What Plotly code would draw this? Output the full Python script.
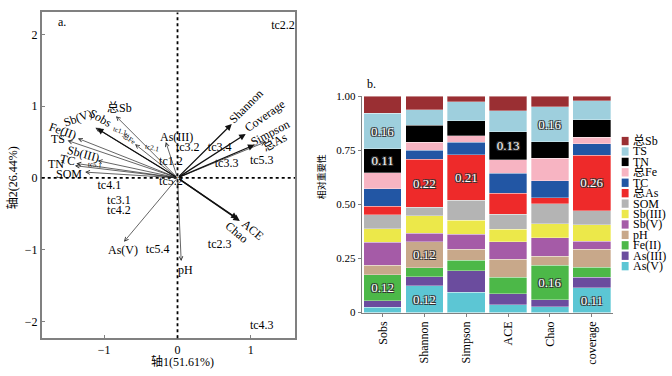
import plotly.graph_objects as go

W, H = 672, 376
FONT = "Liberation Serif, 'Noto Sans CJK SC', serif"

# ---------------- Panel b data (relative importance) ----------------
models = ["Sobs", "Shannon", "Simpson", "ACE", "Chao", "coverage"]
series_names = ["As(V)", "As(III)", "Fe(II)", "pH", "Sb(V)", "Sb(III)", "SOM",
                "总As", "TC", "总Fe", "TN", "TS", "总Sb"]
as_v    = [0.025, 0.124, 0.094, 0.037, 0.027, 0.114]
as_iii  = [0.030, 0.042, 0.100, 0.050, 0.033, 0.050]
fe_ii   = [0.120, 0.042, 0.048, 0.077, 0.159, 0.046]
ph      = [0.045, 0.120, 0.052, 0.082, 0.042, 0.083]
sb_v    = [0.105, 0.038, 0.069, 0.082, 0.085, 0.038]
sb_iii  = [0.063, 0.082, 0.065, 0.057, 0.064, 0.075]
som     = [0.064, 0.040, 0.091, 0.070, 0.094, 0.065]
tot_as  = [0.040, 0.222, 0.212, 0.097, 0.026, 0.257]
tc      = [0.080, 0.040, 0.057, 0.093, 0.079, 0.052]
tot_fe  = [0.075, 0.037, 0.030, 0.061, 0.104, 0.030]
tn      = [0.111, 0.079, 0.070, 0.130, 0.078, 0.082]
ts      = [0.163, 0.073, 0.087, 0.097, 0.161, 0.087]
tot_sb  = [0.079, 0.061, 0.025, 0.067, 0.048, 0.021]
series_values = [as_v, as_iii, fe_ii, ph, sb_v, sb_iii, som, tot_as, tc, tot_fe, tn, ts, tot_sb]
series_colors = ["#5cc6d4", "#6b4c9e", "#4cb848", "#c8a88a", "#a55ba7", "#ece84a", "#b4b4b4",
                 "#ee2a2a", "#2256a4", "#f7b4c2", "#000000", "#9ecfdd", "#9a2f33"]
label_threshold = 0.11

# ---------------- Panel a data (biplot) ----------------
env_names = ["总Sb", "TS", "TN", "总Fe", "TC", "总As", "SOM", "Sb(III)", "Sb(V)", "pH", "Fe(II)", "As(III)", "As(V)"]
env_x = [-0.84, -1.50, -1.40, -0.58, -1.38, 1.20, -1.26, -1.09, -1.12, 0.05, -1.36, -0.16, -0.73]
env_y = [0.86, 0.52, 0.17, 0.47, 0.20, 0.50, 0.08, 0.24, 0.70, -1.16, 0.55, 0.50, -0.89]
env_lx = [-0.79, -1.63, -1.66, -0.66, -1.50, 1.33, -1.48, -1.28, -1.36, 0.11, -1.56, -0.01, -0.74]
env_ly = [0.97, 0.54, 0.20, 0.55, 0.25, 0.50, 0.05, 0.33, 0.84, -1.28, 0.66, 0.57, -1.01]
env_ang = [0, 0, 0, 35, 12, -28, 0, 15, -20, 0, 20, 0, 0]
env_fs = [12, 12, 12, 7, 12, 12, 12, 12, 12, 12, 12, 12, 12]

sp_names = ["Sobs", "Shannon", "Simpson", "ACE", "Chao", "Coverage"]
sp_x = [-1.10, 0.74, 1.05, 0.85, 0.82, 0.93]
sp_y = [0.69, 0.75, 0.46, -0.60, -0.57, 0.61]
sp_lx = [-1.05, 0.94, 1.26, 1.03, 0.80, 1.19]
sp_ly = [0.84, 1.00, 0.63, -0.72, -0.76, 0.86]
sp_ang = [30, -45, -28, 40, 40, -35]

site_names = ["tc2.2", "tc3.2", "tc3.4", "tc3.3", "tc5.3", "tc1.2", "tc5.2", "tc4.1",
              "tc3.1", "tc4.2", "tc5.4", "tc2.3", "tc4.3"]
site_x = [1.44, 0.14, 0.575, 0.67, 1.15, -0.09, -0.09, -0.93, -0.80, -0.80, -0.27, 0.575, 1.15]
site_y = [2.12, 0.41, 0.41, 0.19, 0.23, 0.22, -0.06, -0.11, -0.32, -0.46, -1.00, -0.94, -2.07]
small_site_names = ["tc1.1", "tc2.1", "tc5.1"]
small_site_x = [-0.79, -0.35, -1.13]
small_site_y = [0.65, 0.41, 0.185]
small_site_ang = [18, 12, 5]

fig = go.Figure()

# ----- bars -----
for name, vals, col in zip(series_names, series_values, series_colors):
    fig.add_trace(go.Bar(
        x=models, y=vals, name=name, xaxis="x2", yaxis="y2", showlegend=False,
        marker=dict(color=col, line=dict(color="rgba(255,255,255,0.55)", width=0.6)),
        text=[f"{v:.2f}" if v >= label_threshold else "" for v in vals],
        textposition="inside", insidetextanchor="middle", textangle=0,
        constraintext="none",
        textfont=dict(color="white", size=13, family=FONT,
                      shadow="-1px -1px 0 #333, 1px -1px 0 #333, -1px 1px 0 #333, 1px 1px 0 #333"),
        hoverinfo="x+y+name",
    ))

# ----- sites as text -----
fig.add_trace(go.Scatter(x=site_x, y=site_y, mode="text", text=site_names,
                         textfont=dict(size=12, family=FONT, color="black"),
                         xaxis="x", yaxis="y", showlegend=False))

ann = []
# env arrows (thin, open heads)
for n, x, y, lx, ly, a, fs in zip(env_names, env_x, env_y, env_lx, env_ly, env_ang, env_fs):
    ann.append(dict(x=x, y=y, ax=0, ay=0, xref="x", yref="y", axref="x", ayref="y",
                    showarrow=True, arrowhead=5, arrowsize=1.1, arrowwidth=0.7,
                    arrowcolor="#222", text="", standoff=0))
    ann.append(dict(x=lx, y=ly, xref="x", yref="y", text=n, showarrow=False, textangle=a,
                    font=dict(size=fs, family=FONT, color="black")))
# species arrows (bold, filled heads)
for n, x, y, lx, ly, a in zip(sp_names, sp_x, sp_y, sp_lx, sp_ly, sp_ang):
    ann.append(dict(x=x, y=y, ax=0, ay=0, xref="x", yref="y", axref="x", ayref="y",
                    showarrow=True, arrowhead=2, arrowsize=1.0, arrowwidth=1.3,
                    arrowcolor="#111", text="", standoff=0))
    ann.append(dict(x=lx, y=ly, xref="x", yref="y", text=n, showarrow=False, textangle=a,
                    font=dict(size=12, family=FONT, color="black")))
for n, x, y, a in zip(small_site_names, small_site_x, small_site_y, small_site_ang):
    ann.append(dict(x=x, y=y, xref="x", yref="y", text=n, showarrow=False, textangle=a,
                    font=dict(size=7, family=FONT, color="black")))


def paper_text(px, py, text, size=12, angle=0):
    return dict(x=px / W, y=1 - py / H, xref="paper", yref="paper", text=text, showarrow=False,
                xanchor="center", yanchor="middle", textangle=angle,
                font=dict(size=size, family=FONT, color="black"))


# panel letters and axis titles
ann.append(paper_text(62, 17, "a."))
ann.append(paper_text(371, 81, "b."))
ann.append(paper_text(182, 367.5, "轴1(51.61%)"))
ann.append(paper_text(12, 178, "轴2(26.44%)", angle=-90))
ann.append(paper_text(321, 177, "相对重要性", size=9, angle=-90))

# manual legend (top-to-bottom = reversed stacking order)
shapes = []
leg_names = series_names[::-1]
leg_colors = series_colors[::-1]
for i, (n, c) in enumerate(zip(leg_names, leg_colors)):
    cy = 139.5 + i * 10.77
    shapes.append(dict(type="rect", xref="paper", yref="paper",
                       x0=621.7 / W, x1=628.6 / W, y0=1 - (cy + 4.3) / H, y1=1 - (cy - 4.3) / H,
                       fillcolor=c, line=dict(width=0)))
    ann.append(dict(x=631.5 / W, y=1 - cy / H, xref="paper", yref="paper", text=n, showarrow=False,
                    xanchor="left", yanchor="middle", borderpad=0,
                    font=dict(size=12, family=FONT, color="black")))

# dotted zero lines in panel a
shapes.append(dict(type="line", xref="x", yref="y domain", x0=0, x1=0, y0=0, y1=1,
                   line=dict(color="black", width=1.8, dash="dot")))
shapes.append(dict(type="line", xref="x domain", yref="y", x0=0, x1=1, y0=0, y1=0,
                   line=dict(color="black", width=1.8, dash="dot")))

fig.update_layout(
    width=W, height=H, margin=dict(l=0, r=0, t=0, b=0),
    paper_bgcolor="white", plot_bgcolor="white",
    font=dict(family=FONT, size=12, color="black"),
    barmode="stack", bargap=0.1,
    annotations=ann, shapes=shapes, showlegend=False,
    xaxis=dict(domain=[41.7 / W, 295 / W], range=[-1.853, 1.603], anchor="y",
               tickvals=[-1, 0, 1], ticks="inside", ticklen=4, tickcolor="#808080",
               showline=True, mirror=True, linecolor="#808080", linewidth=1.5,
               showgrid=False, zeroline=False, tickfont=dict(size=12, family=FONT)),
    yaxis=dict(domain=[(H - 343.3) / H, (H - 6.7) / H], range=[-2.237, 2.305], anchor="x",
               tickvals=[-2, -1, 0, 1, 2], ticks="inside", ticklen=4, tickcolor="#808080",
               showline=True, mirror=True, linecolor="#808080", linewidth=1.5,
               showgrid=False, zeroline=False, tickfont=dict(size=12, family=FONT)),
    xaxis2=dict(domain=[361.7 / W, 612.7 / W], range=[-0.5, 5.5], anchor="y2",
                tickangle=-90, ticks="outside", ticklen=3, tickcolor="#808080",
                showline=True, linecolor="#808080", linewidth=1,
                showgrid=False, zeroline=False, tickfont=dict(size=12, family=FONT)),
    yaxis2=dict(domain=[(H - 316.7) / H, (H - 93.3) / H], range=[0, 1], anchor="x2",
                tickvals=[0, 0.25, 0.5, 0.75, 1.0], ticktext=["0", "0.25", "0.50", "0.75", "1.00"],
                ticks="outside", ticklen=3, tickcolor="#808080",
                showline=True, linecolor="#808080", linewidth=1,
                showgrid=False, zeroline=False, tickfont=dict(size=11, family=FONT)),
)

fig.write_html("out.html", config={"displayModeBar": False},
               post_script="document.body.style.margin='0px';document.body.style.overflow='hidden';")
